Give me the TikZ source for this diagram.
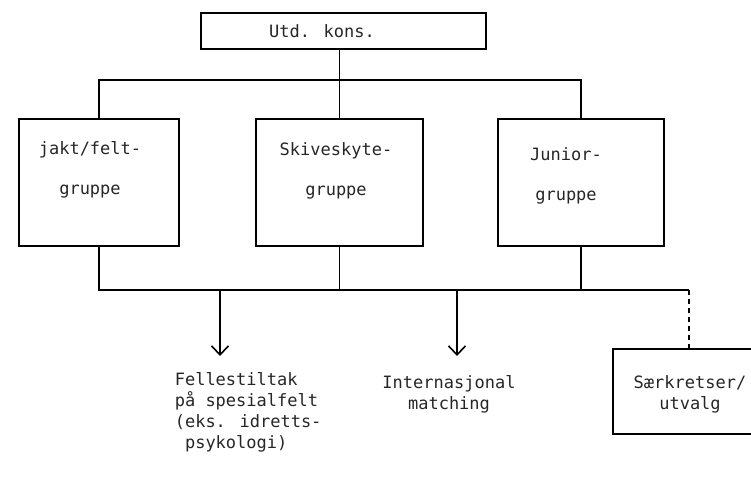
\documentclass[tikz,border=0pt]{standalone}
\usepackage{fontspec}
\newfontfamily\dotfont{DejaVu Sans Mono}
\usetikzlibrary{arrows.meta}

\begin{document}
\begin{tikzpicture}[x=1pt, y=-1pt, line width=1.6pt,
	box/.style={draw, anchor=north west, inner sep=0pt},
	txt/.style={font=\dotfont\fontsize{17}{21}\selectfont, text=black!85, align=center},
	wide/.style={txt, font=\dotfont\fontsize{17}{40}\selectfont},
	arr/.style={-{Straight Barb[length=9pt, width=17pt]}}]
	\useasboundingbox (0,0) rectangle (751,488);

	\node[box, minimum width=285pt, minimum height=36pt] (kons) at (200, 12) {};
	\node[box, minimum width=160pt, minimum height=127pt] (jakt) at (18, 118) {};
	\node[box, minimum width=167pt, minimum height=127pt] (skive) at (255, 118) {};
	\node[box, minimum width=166pt, minimum height=127pt] (junior) at (497, 118) {};
	\node[box, minimum width=160pt, minimum height=85pt] (saer) at (612, 348) {};

	\node[txt] (konsT) at (322, 31) {Utd. kons.};
	\node[wide] (jaktT) at (90, 170) {jakt/felt-\\gruppe};
	\node[wide] (skiveT) at (336, 171) {Skiveskyte-\\gruppe};
	\node[wide] (juniorT) at (566, 176) {Junior-\\gruppe};
	\node[txt, align=left, anchor=north west, inner sep=0pt] (felles) at (174, 372) {Fellestiltak\\på spesialfelt\\(eks. idretts-\\\ psykologi)};
	\node[txt] (inter) at (449, 394) {Internasjonal\\matching};
	\node[txt] (saerT) at (690, 394) {Særkretser/\\utvalg};

	\coordinate (bus) at (689, 290);
	\coordinate (a1) at (220, 290);
	\coordinate (a2) at (457, 290);
	\coordinate (t1) at (220, 356);
	\coordinate (t2) at (457, 356);

	\draw (skive.north) -- (skive.north |- kons.south);
	\draw (jakt.north) -- ++(0, -38) -| (junior.north);
	\draw (jakt.south) |- (bus);
	\draw (skive.south) -- (skive.south |- bus);
	\draw (junior.south) -- (junior.south |- bus);
	\draw[arr] (a1) -- (t1);
	\draw[arr] (a2) -- (t2);
	\draw[line width=1.1pt, dash pattern=on 5pt off 4pt] (bus) -- (bus |- saer.north);

\end{tikzpicture}
\end{document}
